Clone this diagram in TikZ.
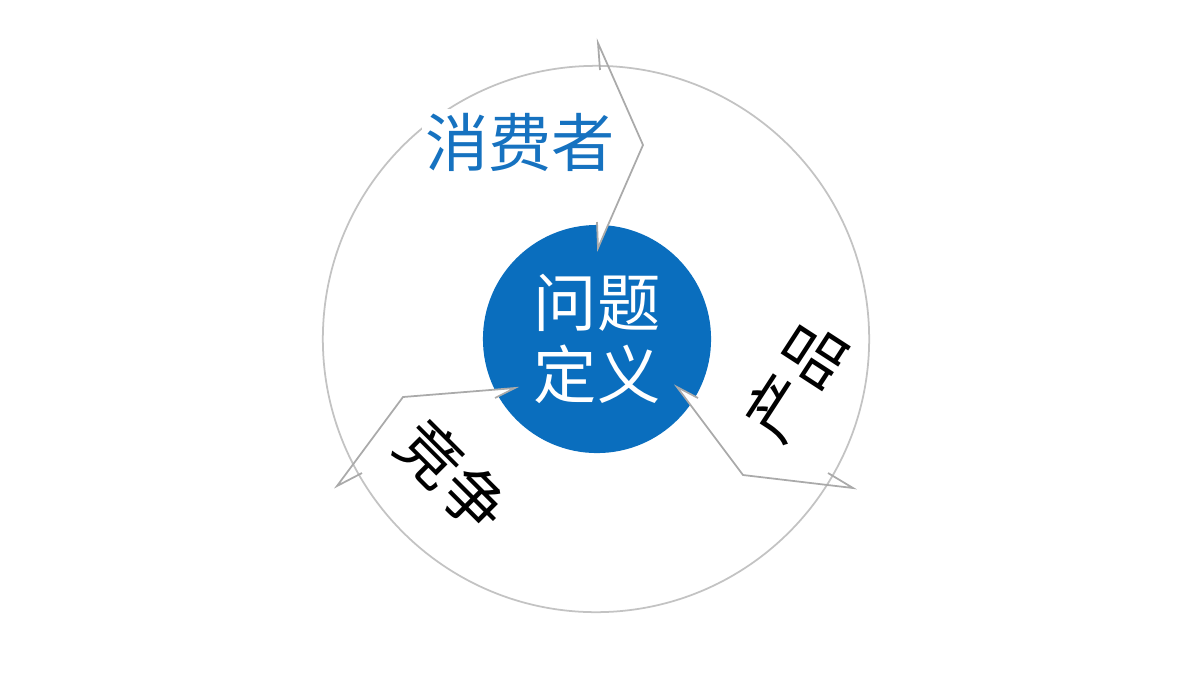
\documentclass[tikz,border=0pt]{standalone}
\usepackage{fontspec}
\newfontfamily\cjk{Noto Sans CJK SC}
\usetikzlibrary{calc}
\definecolor{coreblue}{RGB}{10,110,190}
\definecolor{labelblue}{RGB}{22,114,192}
\definecolor{ringgray}{RGB}{195,195,195}
\definecolor{cutgray}{RGB}{170,170,170}

\begin{document}
\begin{tikzpicture}[x=0.01cm,
            y=-0.01cm,
            ring/.style={circle,draw=ringgray,line width=0.5pt,minimum size=5.46cm,inner sep=0pt},
            core/.style={circle,fill=coreblue,minimum size=2.28cm,inner sep=0pt,text=white,align=center},
            seglabel/.style={font=\cjk\fontsize{18pt}{20.5pt}\selectfont,inner sep=1pt},
            cut/.style={draw=cutgray,line width=0.5pt,line join=miter}]

        \useasboundingbox (0,0) rectangle (1200,675);

        \node[ring]           (ring)     at (596,339) {};
        \node[core,seglabel]  (core)     at (597,339) {问题\\定义};

        \node[seglabel,text=labelblue,fill=white] (consumer) at (520,142) {消费者};
        \node[seglabel,rotate=57]                 (product)  at (795,380) {产品};
        \node[seglabel,rotate=-45]                (rival)    at (453,476) {竞争};

        \coordinate (t1) at (600,70);
        \coordinate (t2) at (598,43);
        \coordinate (t3) at (643,145);
        \coordinate (t4) at (598,248);
        \coordinate (t5) at (597,222);

        \coordinate (r1) at (698,398);
        \coordinate (r2) at (677,387);
        \coordinate (r3) at (743,475);
        \coordinate (r4) at (853,488);
        \coordinate (r5) at (828,473);

        \coordinate (l1) at (495,398);
        \coordinate (l2) at (515,388);
        \coordinate (l3) at (403,397);
        \coordinate (l4) at (337,486);
        \coordinate (l5) at (362,473);

        \fill[white] (t4) -- ($(t4)!1.3!(t5)$) -- ($(t4)!0.3!(t3)$) -- cycle;
        \fill[white] (r2) -- ($(r2)!1.3!(r1)$) -- ($(r2)!0.3!(r3)$) -- cycle;
        \fill[white] (l2) -- ($(l2)!1.3!(l1)$) -- ($(l2)!0.3!(l3)$) -- cycle;

        \draw[cut] (t1) -- (t2) -- (t3) -- (t4) -- (t5);
        \draw[cut] (r1) -- (r2) -- (r3) -- (r4) -- (r5);
        \draw[cut] (l1) -- (l2) -- (l3) -- (l4) -- (l5);

    \end{tikzpicture}
\end{document}
